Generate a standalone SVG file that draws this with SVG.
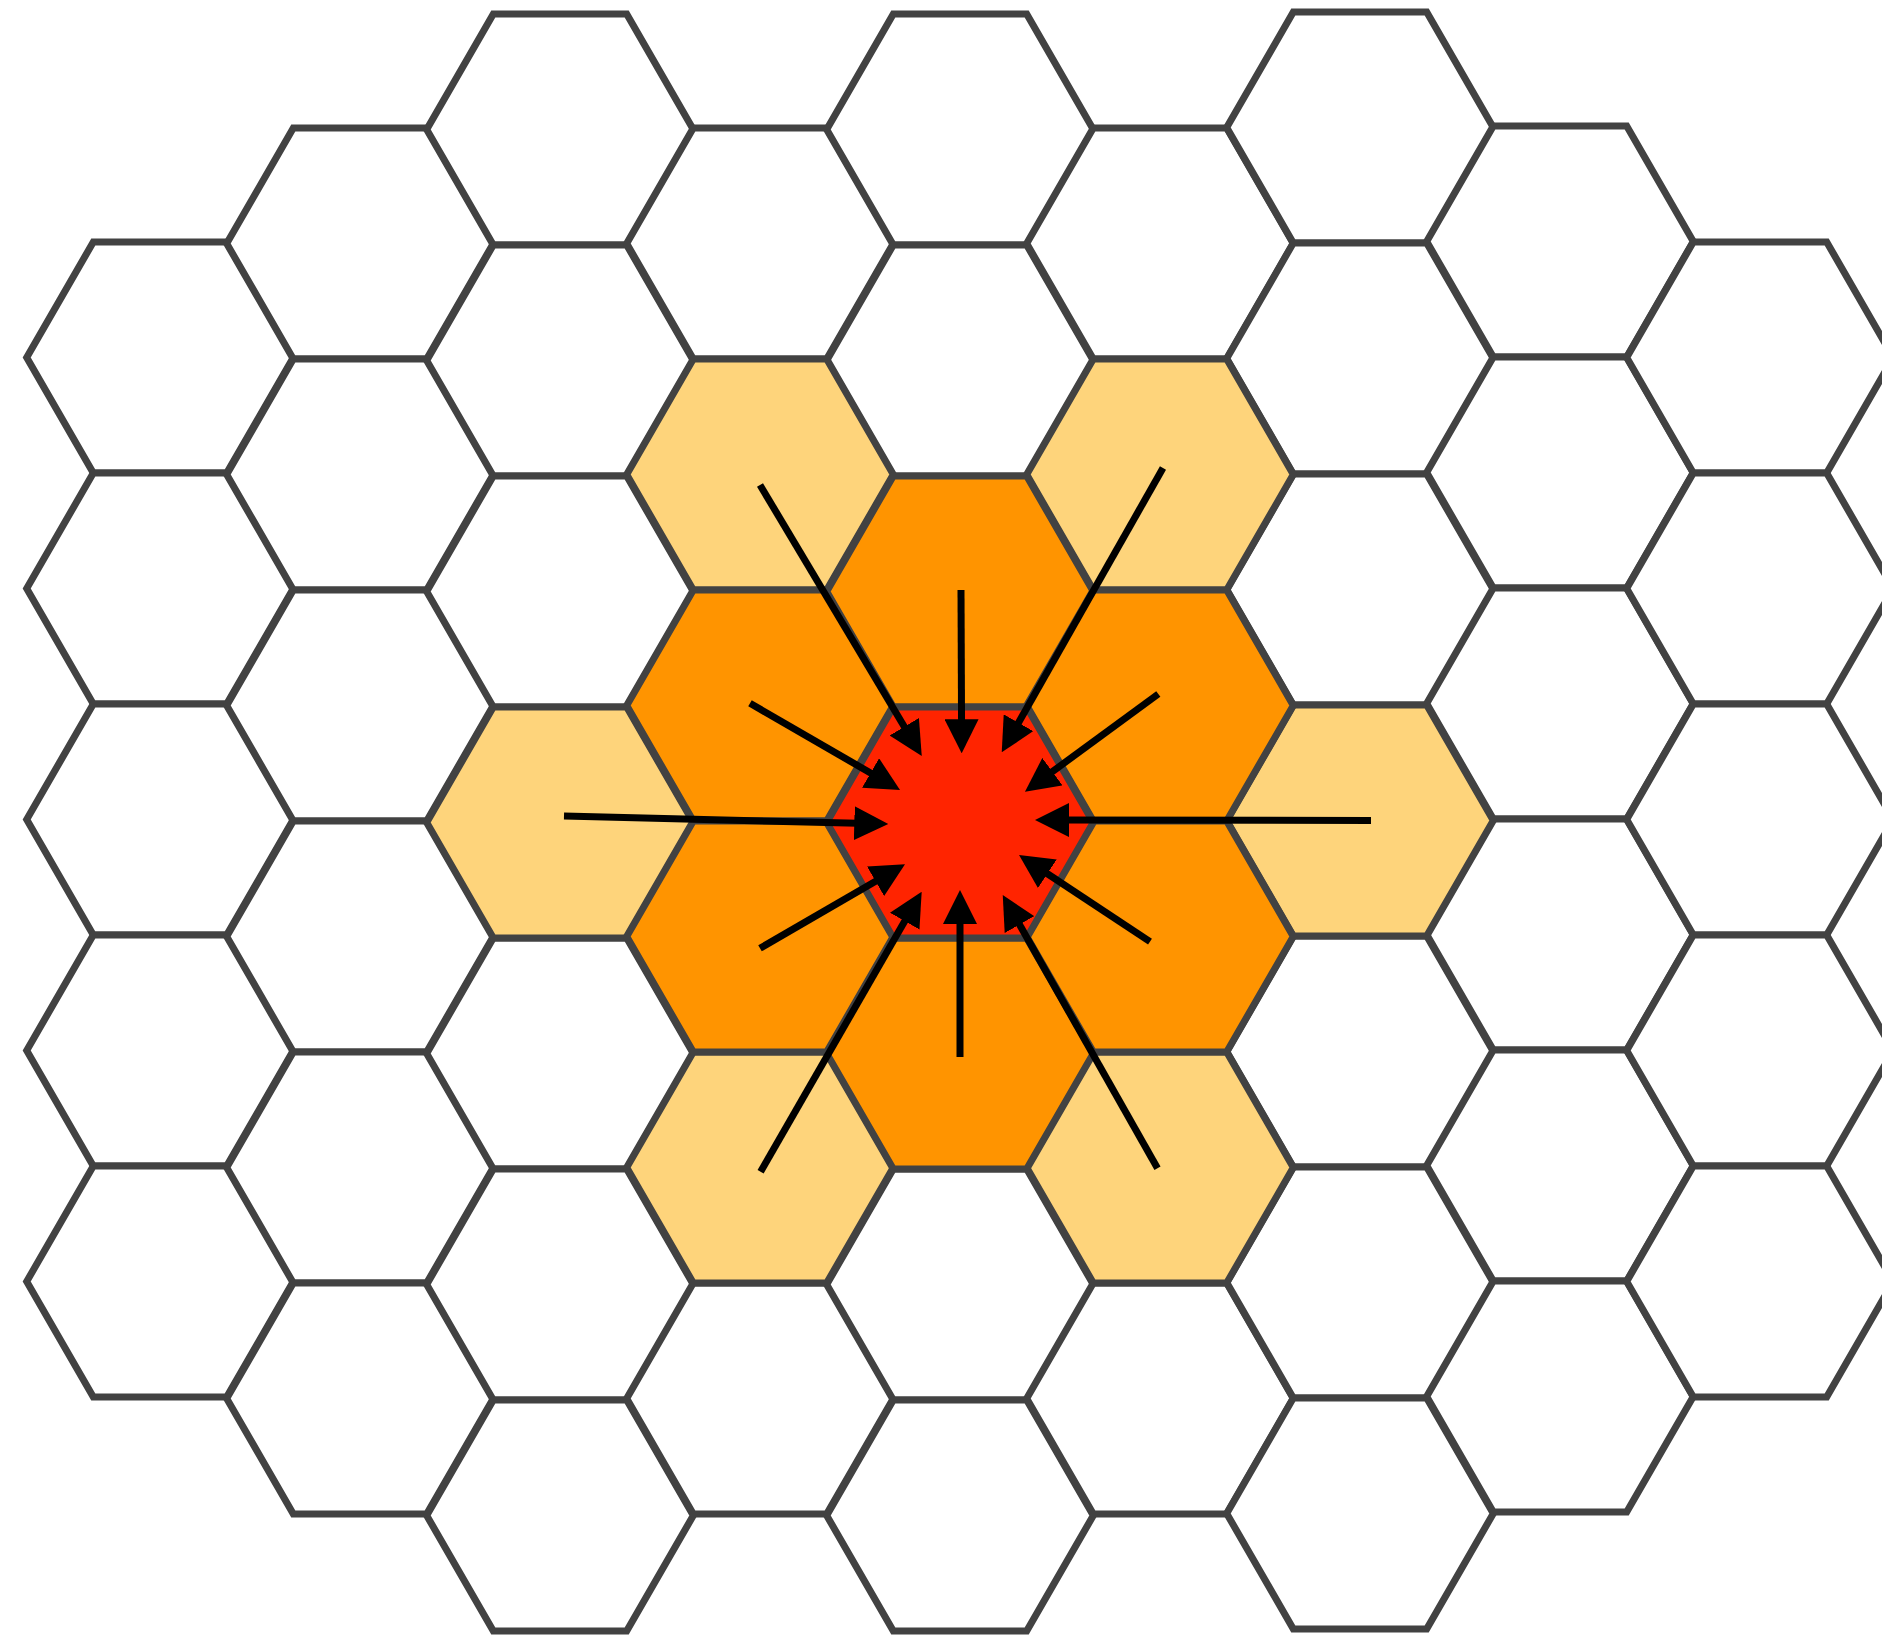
<svg xmlns="http://www.w3.org/2000/svg" xmlns:xlink="http://www.w3.org/1999/xlink" width="1882" height="1639" viewBox="0 0 1882 1639">
<style>
.hex{stroke:#424242;stroke-width:7;stroke-linejoin:miter}
.w{fill:#ffffff}
.y{fill:#fed47b}
.o{fill:#ff9400}
.r{fill:#ff2400}
.arr{stroke:#000000;stroke-width:7;fill:none;marker-end:url(#ah)}
</style>
<defs>
<polygon id="h" points="-133.3,0 -66.7,-115.5 66.7,-115.5 133.3,0 66.7,115.5 -66.7,115.5"/>
<marker id="ah" markerUnits="userSpaceOnUse" markerWidth="34" markerHeight="34" viewBox="0 0 34 34" refX="14" refY="17" orient="auto">
<path d="M0,0 L34,17 L0,34 z" fill="#000000"/>
</marker>
</defs>
<rect x="0" y="0" width="1882" height="1639" fill="#ffffff"/>
<g id="hexes">
<g id="hex-c0-r0"><use href="#h" class="hex w" x="160" y="357.5"/></g>
<g id="hex-c0-r1"><use href="#h" class="hex w" x="160" y="588.5"/></g>
<g id="hex-c0-r2"><use href="#h" class="hex w" x="160" y="819.5"/></g>
<g id="hex-c0-r3"><use href="#h" class="hex w" x="160" y="1050.5"/></g>
<g id="hex-c0-r4"><use href="#h" class="hex w" x="160" y="1281.5"/></g>
<g id="hex-c1-r0"><use href="#h" class="hex w" x="360" y="243.5"/></g>
<g id="hex-c1-r1"><use href="#h" class="hex w" x="360" y="474.5"/></g>
<g id="hex-c1-r2"><use href="#h" class="hex w" x="360" y="705.5"/></g>
<g id="hex-c1-r3"><use href="#h" class="hex w" x="360" y="936.5"/></g>
<g id="hex-c1-r4"><use href="#h" class="hex w" x="360" y="1167.5"/></g>
<g id="hex-c1-r5"><use href="#h" class="hex w" x="360" y="1398.5"/></g>
<g id="hex-c2-r0"><use href="#h" class="hex w" x="560" y="129.5"/></g>
<g id="hex-c2-r1"><use href="#h" class="hex w" x="560" y="360.5"/></g>
<g id="hex-c2-r2"><use href="#h" class="hex w" x="560" y="591.5"/></g>
<g id="hex-c2-r4"><use href="#h" class="hex w" x="560" y="1053.5"/></g>
<g id="hex-c2-r5"><use href="#h" class="hex w" x="560" y="1284.5"/></g>
<g id="hex-c2-r6"><use href="#h" class="hex w" x="560" y="1515.5"/></g>
<g id="hex-c3-r0"><use href="#h" class="hex w" x="760" y="243.5"/></g>
<g id="hex-c3-r5"><use href="#h" class="hex w" x="760" y="1398.5"/></g>
<g id="hex-c4-r0"><use href="#h" class="hex w" x="960" y="129.5"/></g>
<g id="hex-c4-r1"><use href="#h" class="hex w" x="960" y="360.5"/></g>
<g id="hex-c4-r5"><use href="#h" class="hex w" x="960" y="1284.5"/></g>
<g id="hex-c4-r6"><use href="#h" class="hex w" x="960" y="1515.5"/></g>
<g id="hex-c5-r0"><use href="#h" class="hex w" x="1160" y="243.5"/></g>
<g id="hex-c5-r5"><use href="#h" class="hex w" x="1160" y="1398.5"/></g>
<g id="hex-c6-r0"><use href="#h" class="hex w" x="1360" y="127.5"/></g>
<g id="hex-c6-r1"><use href="#h" class="hex w" x="1360" y="358.5"/></g>
<g id="hex-c6-r2"><use href="#h" class="hex w" x="1360" y="589.5"/></g>
<g id="hex-c6-r4"><use href="#h" class="hex w" x="1360" y="1051.5"/></g>
<g id="hex-c6-r5"><use href="#h" class="hex w" x="1360" y="1282.5"/></g>
<g id="hex-c6-r6"><use href="#h" class="hex w" x="1360" y="1513.5"/></g>
<g id="hex-c7-r0"><use href="#h" class="hex w" x="1560" y="241.5"/></g>
<g id="hex-c7-r1"><use href="#h" class="hex w" x="1560" y="472.5"/></g>
<g id="hex-c7-r2"><use href="#h" class="hex w" x="1560" y="703.5"/></g>
<g id="hex-c7-r3"><use href="#h" class="hex w" x="1560" y="934.5"/></g>
<g id="hex-c7-r4"><use href="#h" class="hex w" x="1560" y="1165.5"/></g>
<g id="hex-c7-r5"><use href="#h" class="hex w" x="1560" y="1396.5"/></g>
<g id="hex-c8-r0"><use href="#h" class="hex w" x="1760" y="357.5"/></g>
<g id="hex-c8-r1"><use href="#h" class="hex w" x="1760" y="588.5"/></g>
<g id="hex-c8-r2"><use href="#h" class="hex w" x="1760" y="819.5"/></g>
<g id="hex-c8-r3"><use href="#h" class="hex w" x="1760" y="1050.5"/></g>
<g id="hex-c8-r4"><use href="#h" class="hex w" x="1760" y="1281.5"/></g>
<g id="hex-c2-r3"><use href="#h" class="hex y" x="560" y="822.5"/></g>
<g id="hex-c3-r1"><use href="#h" class="hex y" x="760" y="474.5"/></g>
<g id="hex-c3-r4"><use href="#h" class="hex y" x="760" y="1167.5"/></g>
<g id="hex-c5-r1"><use href="#h" class="hex y" x="1160" y="474.5"/></g>
<g id="hex-c5-r4"><use href="#h" class="hex y" x="1160" y="1167.5"/></g>
<g id="hex-c6-r3"><use href="#h" class="hex y" x="1360" y="820.5"/></g>
<g id="hex-c3-r2"><use href="#h" class="hex o" x="760" y="705.5"/></g>
<g id="hex-c3-r3"><use href="#h" class="hex o" x="760" y="936.5"/></g>
<g id="hex-c4-r2"><use href="#h" class="hex o" x="960" y="591.5"/></g>
<g id="hex-c4-r4"><use href="#h" class="hex o" x="960" y="1053.5"/></g>
<g id="hex-c5-r2"><use href="#h" class="hex o" x="1160" y="705.5"/></g>
<g id="hex-c5-r3"><use href="#h" class="hex o" x="1160" y="936.5"/></g>
<g id="hex-c4-r3"><use href="#h" class="hex r" x="960" y="822.5"/></g>
</g>
<g id="connectors">
<line class="arr" x1="961" y1="590" x2="961.6" y2="733.3"/>
<line class="arr" x1="960" y1="1057" x2="960" y2="910"/>
<line class="arr" x1="564" y1="816" x2="868.3" y2="823.5"/>
<line class="arr" x1="1371" y1="820.5" x2="1055" y2="820"/>
<line class="arr" x1="760" y1="485" x2="911.5" y2="738.8"/>
<line class="arr" x1="1163" y1="468" x2="1011.6" y2="734.9"/>
<line class="arr" x1="750" y1="703.3" x2="882.7" y2="780"/>
<line class="arr" x1="1158.3" y1="694" x2="1041.1" y2="779.9"/>
<line class="arr" x1="760" y1="948.3" x2="887.7" y2="874.3"/>
<line class="arr" x1="1150" y1="941.7" x2="1035.7" y2="866"/>
<line class="arr" x1="760.6" y1="1171.7" x2="911.7" y2="909"/>
<line class="arr" x1="1157.5" y1="1168.3" x2="1012.6" y2="912.4"/>
</g>
</svg>
